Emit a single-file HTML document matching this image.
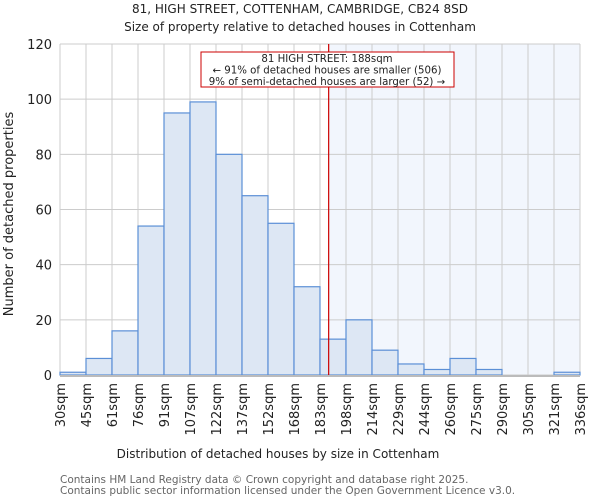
<!DOCTYPE html>
<html><head><meta charset="utf-8"><style>
body{margin:0;background:#fff;font-family:"DejaVu Sans","Liberation Sans",sans-serif}
svg text{font-family:"DejaVu Sans","Liberation Sans",sans-serif}
</style></head><body>
<svg id="c" width="600" height="500" viewBox="0 0 600 500">
<text x="300" y="13" text-anchor="middle" font-size="12" fill="#222">81, HIGH STREET, COTTENHAM, CAMBRIDGE, CB24 8SD</text>
<text x="300" y="31" text-anchor="middle" font-size="12" fill="#222">Size of property relative to detached houses in Cottenham</text>
<g id="grid"></g><g id="bars"></g><g id="axes"></g>
<text x="278" y="458" text-anchor="middle" font-size="12" fill="#222">Distribution of detached houses by size in Cottenham</text>
<text transform="translate(13,214) rotate(-90)" text-anchor="middle" font-size="13" fill="#222">Number of detached properties</text>
<text x="60" y="483" font-size="10.5" fill="#666">Contains HM Land Registry data © Crown copyright and database right 2025.</text>
<text x="60" y="494" font-size="10.5" fill="#666">Contains public sector information licensed under the Open Government Licence v3.0.</text>
</svg>
<script>
const categories=["30sqm","45sqm","61sqm","76sqm","91sqm","107sqm","122sqm","137sqm","152sqm","168sqm","183sqm","198sqm","214sqm","229sqm","244sqm","260sqm","275sqm","290sqm","305sqm","321sqm","336sqm"];
const counts=[1,6,16,54,95,99,80,65,55,32,13,20,9,4,2,6,2,0,0,1];
const yTicks=[0,20,40,60,80,100,120];
const markerValue=188;
const ns="http://www.w3.org/2000/svg";
const L=60,R=580,T=44,B=375,yMax=120;
const bw=(R-L)/counts.length;
const xb=i=>L+i*bw;
const y=v=>B-(v/yMax)*(B-T);
const xv=v=>{for(let i=0;i<categories.length-1;i++){const a=parseFloat(categories[i]),b=parseFloat(categories[i+1]);if(v>=a&&v<=b)return xb(i)+bw*(v-a)/(b-a);}return R;};
function mk(tag,at,parent){const e=document.createElementNS(ns,tag);for(const k in at)e.setAttribute(k,at[k]);parent.appendChild(e);return e;}
const g=document.getElementById('grid'),bg=document.getElementById('bars'),ax=document.getElementById('axes');
const mx=xv(markerValue);
const sh=mk('rect',{x:mx,y:T,width:R-mx,height:B-T,fill:'#f2f6fd'},g);


yTicks.forEach(t=>{
  const l=mk('line',{x1:L,x2:R,y1:y(t),y2:y(t),stroke:'#ccc'},g);
  
  
  const tx=mk('text',{x:L-8,y:y(t)+5,'text-anchor':'end','font-size':13,fill:'#222'},ax);
  tx.textContent=t;
  
  
});
categories.forEach((c,i)=>{
  const X=xb(i);
  const l=mk('line',{x1:X,x2:X,y1:T,y2:B,stroke:'#ccc'},g);
  
  
  const tx=mk('text',{transform:`translate(${X+5},${B+8}) rotate(-90)`,'text-anchor':'end','font-size':13,fill:'#222'},ax);
  tx.textContent=c;
  
  
});
counts.forEach((v,i)=>{
  if(v<=0)return;
  const r=mk('rect',{x:xb(i),y:y(v),width:bw,height:B-y(v),fill:'#dde7f4',stroke:'#5b8fd6','stroke-width':1.2},bg);
  
  
});
const base=mk('line',{x1:L,x2:R,y1:B+1,y2:B+1,stroke:'#bbb','stroke-width':2},ax);


const ml=mk('line',{x1:mx,x2:mx,y1:T,y2:B,stroke:'#c00','stroke-width':1.2},ax);


const box=mk('rect',{x:201,y:52,width:253,height:35,fill:'#fff',stroke:'#c00'},ax);


["81 HIGH STREET: 188sqm","← 91% of detached houses are smaller (506)","9% of semi-detached houses are larger (52) →"].forEach((s,i)=>{
  const t=mk('text',{x:327,y:62+i*11.5,'text-anchor':'middle','font-size':10.2,fill:'#222'},ax);
  t.textContent=s;
  
  
});
</script>
</body></html>
